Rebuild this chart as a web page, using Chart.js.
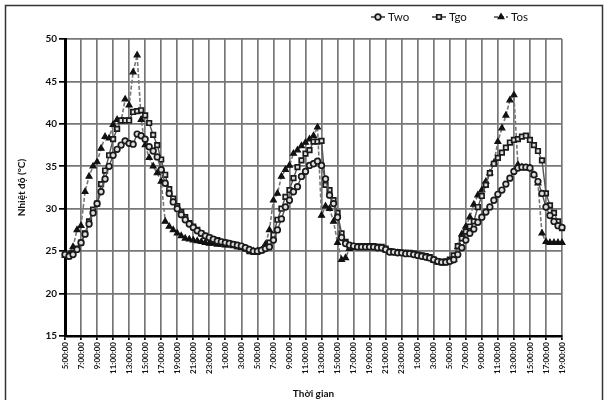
<!DOCTYPE html>
<html lang="vi">
<head>
    <meta charset="UTF-8">
    <title>Two - Tgo - Tos</title>
    <script src="https://cdn.jsdelivr.net/npm/chart.js"></script>
    <style>
        html, body {
            margin: 0;
            padding: 0;
            background: #fff;
        }
        #wrap {
            width: 608px;
            height: 400px;
        }
    </style>
</head>
<body>
    <div id="wrap">
        <canvas id="tempChart" width="608" height="400"></canvas>
    </div>

    <script>
        // 30-minute readings, 5:00 on day 1 to 19:00 on day 3
        const startHour = 5;
        const stepMinutes = 30;
        const pointCount = 125;
        const timeLabels = [];
        for (let i = 0; i < pointCount; i++) {
            const total = startHour * 60 + i * stepMinutes;
            const h = Math.floor(total / 60) % 24;
            const m = total % 60;
            timeLabels.push(h + ':' + (m < 10 ? '0' + m : m) + ':00');
        }

        const seriesNames = ['Two', 'Tgo', 'Tos'];

        const two = [
            24.6, 24.4, 24.6, 25.2, 26.0, 27.0, 28.2, 29.5, 30.6, 32.0, 33.5, 35.0, 36.3, 37.0, 37.5, 38.0, 37.7, 37.6, 38.8, 38.6, 38.2, 37.3, 36.8, 36.1, 34.6,
            33.0, 31.8, 30.8, 30.0, 29.3, 28.7, 28.2, 27.8, 27.4, 27.1, 26.8, 26.6, 26.4, 26.2, 26.1, 26.0, 25.9, 25.8, 25.7, 25.6, 25.4, 25.2, 25.0, 25.0,
            25.1, 25.3, 25.5, 26.3, 27.5, 28.8, 30.2, 31.0, 32.0, 32.6, 33.8, 34.4, 35.1, 35.3, 35.6, 35.1, 33.5, 31.6, 30.6, 29.0, 26.6, 25.9, 25.7, 25.6,
            25.5, 25.5, 25.5, 25.5, 25.5, 25.4, 25.4, 25.2, 24.9, 24.9, 24.8, 24.8, 24.7, 24.7, 24.6, 24.5, 24.4, 24.3, 24.2, 24.0, 23.8, 23.7, 23.7, 23.8,
            24.0, 24.6, 25.4, 26.3, 27.1, 27.6, 28.4, 29.0, 29.6, 30.2, 31.0, 31.7, 32.2, 32.9, 33.6, 34.4, 34.8, 34.9, 34.9, 34.8, 34.0, 33.2, 31.8, 30.2, 29.2, 28.5, 28.0, 27.8
        ];

        const tgo = [
            24.6, 24.4, 24.8, 25.3, 26.0, 27.1, 28.5, 29.9, 30.6, 32.9, 34.5, 36.3, 38.2, 39.4, 40.4, 40.4, 40.4, 41.4, 41.5, 41.6, 41.0, 40.1, 38.7, 37.5, 35.8,
            34.0, 32.3, 31.2, 30.3, 29.6, 29.0, 28.3, 27.9, 27.5, 27.1, 26.8, 26.6, 26.4, 26.3, 26.1, 26.0, 25.9, 25.8, 25.6, 25.5, 25.3, 25.0, 24.9, 24.9,
            25.1, 25.4, 26.0, 26.9, 28.7, 30.0, 31.4, 32.2, 33.6, 34.9, 35.7, 36.5, 36.9, 37.9, 37.9, 38.0, 32.8, 32.2, 31.0, 29.5, 27.1, 26.1, 25.5, 25.5,
            25.6, 25.6, 25.6, 25.6, 25.6, 25.5, 25.5, 25.3, 25.0, 24.9, 24.9, 24.8, 24.8, 24.8, 24.7, 24.6, 24.5, 24.4, 24.3, 24.0, 23.8, 23.7, 23.8, 24.0,
            24.5, 25.6, 26.5, 27.3, 27.9, 28.5, 30.2, 31.5, 32.8, 34.2, 35.3, 36.0, 36.6, 37.2, 37.8, 38.1, 38.2, 38.5, 38.6, 38.1, 37.5, 36.8, 35.7, 31.8, 30.4, 29.5, 28.5, 27.7
        ];

        const tos = [
            24.5, 24.6, 25.5, 27.5, 28.0, 32.0, 33.8, 35.0, 35.5, 37.1, 38.5, 38.3, 39.9, 40.5, 40.3, 42.9, 42.2, 46.1, 48.1, 40.5, 37.5, 36.0, 35.0, 34.2, 33.2,
            28.5, 27.9, 27.5, 27.1, 26.8, 26.5, 26.4, 26.3, 26.2, 26.1, 26.0, 25.9, 25.9, 25.8, 25.8, 25.7, 25.7, 25.6, 25.5, 25.4, 25.3, 25.1, 25.0, 25.0,
            25.1, 25.8, 27.5, 31.0, 31.8, 33.8, 34.6, 35.1, 36.5, 36.9, 37.4, 37.8, 38.2, 38.6, 39.6, 29.2, 30.3, 30.0, 28.5, 26.0, 24.0, 24.2, 25.3, 25.5,
            25.4, 25.4, 25.4, 25.4, 25.4, 25.4, 25.3, 25.1, 24.9, 24.8, 24.8, 24.7, 24.7, 24.6, 24.6, 24.5, 24.4, 24.3, 24.1, 23.9, 23.7, 23.6, 23.6, 23.8,
            24.0, 25.5, 27.0, 27.9, 29.0, 30.5, 31.6, 32.2, 33.2, 34.2, 35.4, 37.9, 39.5, 41.0, 42.8, 43.4, 35.2, 34.9, 34.8, 34.8, 34.0, 33.0, 27.1, 26.1, 26.0, 26.0, 26.0, 26.0
        ];

        const yMin = 15;
        const yMax = 50;
        const yStep = 5;
        const labelEvery = 4; // one tick label every 2 hours

        const xTitle = 'Thời gian';
        const yTitle = 'Nhiệt độ (°C)';

        const fontFamily = 'Lato, "Liberation Sans", sans-serif';

        // legend drawn as Excel does it: short line + marker + name
        const lineLegend = {
            id: 'lineLegend',
            afterDraw(chart) {
                const ctx = chart.ctx;
                const y = 17;
                const xs = [371, 432, 494];
                chart.data.datasets.forEach((ds, k) => {
                    const x0 = xs[k];
                    ctx.save();
                    ctx.strokeStyle = ds.borderColor;
                    ctx.lineWidth = 1.8;
                    ctx.setLineDash(ds.borderDash || []);
                    ctx.beginPath();
                    ctx.moveTo(x0, y);
                    ctx.lineTo(x0 + 14, y);
                    ctx.stroke();
                    ctx.setLineDash([]);
                    ctx.fillStyle = ds.pointBackgroundColor;
                    ctx.strokeStyle = ds.pointBorderColor;
                    ctx.lineWidth = ds.pointBorderWidth;
                    Chart.helpers.drawPoint(ctx, {
                        pointStyle: ds.pointStyle,
                        radius: ds.pointRadius,
                        borderWidth: ds.pointBorderWidth,
                        rotation: 0
                    }, x0 + 7, y);
                    ctx.fillStyle = '#111';
                    ctx.font = '11.5px ' + fontFamily;
                    ctx.textBaseline = 'middle';
                    ctx.fillText(ds.label, x0 + 17, y + 0.5);
                    ctx.restore();
                });
            }
        };

        const frame = {
            id: 'frame',
            beforeDraw(chart) {
                const ctx = chart.ctx;
                ctx.save();
                ctx.fillStyle = '#fff';
                ctx.fillRect(0, 0, chart.width, chart.height);
                ctx.strokeStyle = '#333';
                ctx.lineWidth = 1.5;
                ctx.strokeRect(5.5, 5.5, 597, 410);
                ctx.restore();
            }
        };

        function createChart() {
            const ctx = document.getElementById('tempChart').getContext('2d');

            new Chart(ctx, {
                type: 'line',
                data: {
                    labels: timeLabels,
                    datasets: [{
                        label: seriesNames[0],
                        data: two,
                        borderColor: '#555',
                        borderWidth: 1.4,
                        pointStyle: 'circle',
                        pointRadius: 2.8,
                        pointBorderWidth: 1.7,
                        pointBorderColor: '#1a1a1a',
                        pointBackgroundColor: '#ddd'
                    }, {
                        label: seriesNames[1],
                        data: tgo,
                        borderColor: '#555',
                        borderWidth: 1.4,
                        pointStyle: 'rect',
                        pointRadius: 3.2,
                        pointBorderWidth: 1.7,
                        pointBorderColor: '#1a1a1a',
                        pointBackgroundColor: '#ddd'
                    }, {
                        label: seriesNames[2],
                        data: tos,
                        borderColor: '#777',
                        borderWidth: 1.6,
                        borderDash: [4, 2],
                        pointStyle: 'triangle',
                        pointRadius: 3.4,
                        pointBorderWidth: 1.2,
                        pointBorderColor: '#111',
                        pointBackgroundColor: '#111'
                    }]
                },
                options: {
                    responsive: false,
                    animation: false,
                    layout: {
                        padding: { left: 0, top: 39, right: 46, bottom: 0 }
                    },
                    plugins: {
                        legend: { display: false },
                        tooltip: { enabled: false }
                    },
                    elements: {
                        line: { tension: 0 }
                    },
                    scales: {
                        x: {
                            grid: {
                                color: '#777',
                                lineWidth: 1.7,
                                tickColor: '#000',
                                tickLength: 4
                            },
                            border: { color: '#000', width: 2.5 },
                            ticks: {
                                autoSkip: false,
                                minRotation: 90,
                                maxRotation: 90,
                                padding: 2,
                                color: '#111',
                                font: { family: fontFamily, size: 8, weight: 'bold' },
                                callback: function (value, index) {
                                    return index % labelEvery === 0 ? this.getLabelForValue(value) : null;
                                }
                            },
                            title: {
                                display: true,
                                text: xTitle,
                                color: '#111',
                                font: { family: fontFamily, size: 10, weight: 'bold' },
                                padding: { top: 0, bottom: 0 }
                            },
                            afterFit(scale) { scale.height = 64; }
                        },
                        y: {
                            min: yMin,
                            max: yMax,
                            grid: {
                                color: '#777',
                                lineWidth: 1.7,
                                tickColor: '#000',
                                tickLength: 6
                            },
                            border: { color: '#000', width: 3 },
                            ticks: {
                                stepSize: yStep,
                                padding: 2,
                                color: '#111',
                                font: { family: fontFamily, size: 10, weight: 'bold' }
                            },
                            title: {
                                display: true,
                                text: yTitle,
                                color: '#111',
                                font: { family: fontFamily, size: 10, weight: 'bold' },
                                padding: { top: 16, bottom: 0 }
                            },
                            afterFit(scale) { scale.width = 65; }
                        }
                    }
                },
                plugins: [frame, lineLegend]
            });
        }
        createChart();
    </script>
</body>
</html>
